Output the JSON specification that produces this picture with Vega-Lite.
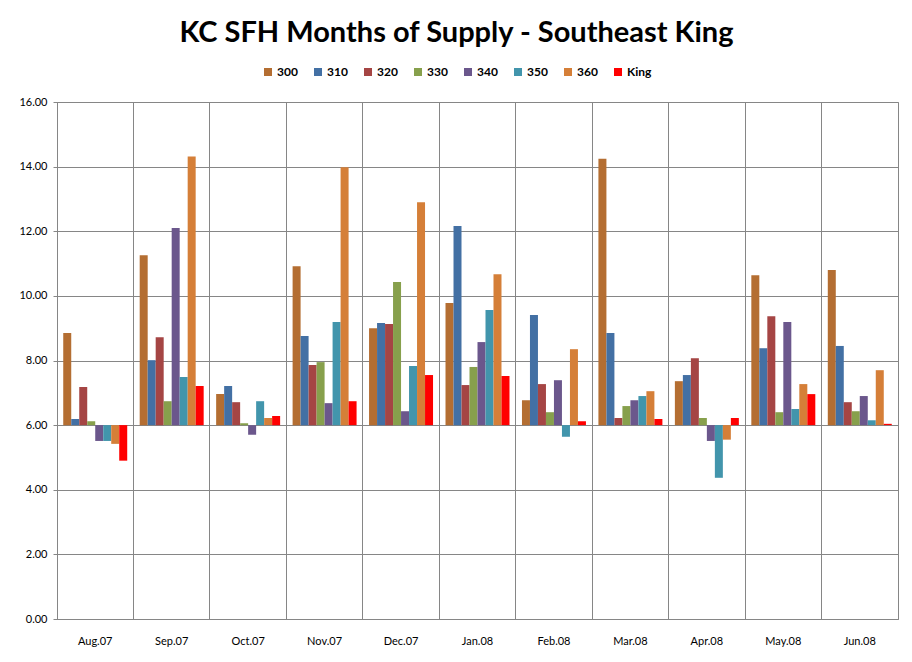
{
  "$schema": "https://vega.github.io/schema/vega-lite/v6.json",
  "width": 841,
  "height": 517,
  "autosize": {"type": "none"},
  "padding": {"left": 57, "top": 102, "right": 14, "bottom": 43},
  "background": "white",
  "title": {
    "text": "KC SFH Months of Supply - Southeast King",
    "font": "Lato",
    "fontSize": 29,
    "fontWeight": "bold",
    "color": "#000000",
    "anchor": "middle",
    "frame": "group",
    "offset": 18,
    "dx": -21
  },
  "config": {
    "view": {"stroke": "#868686", "strokeWidth": 1},
    "font": "Lato"
  },
  "data": {
    "values": [
      {"m": "Aug.07", "s": "300", "v": 8.85}, {"m": "Aug.07", "s": "310", "v": 6.19}, {"m": "Aug.07", "s": "320", "v": 7.18}, {"m": "Aug.07", "s": "330", "v": 6.12}, {"m": "Aug.07", "s": "340", "v": 5.51}, {"m": "Aug.07", "s": "350", "v": 5.51}, {"m": "Aug.07", "s": "360", "v": 5.42}, {"m": "Aug.07", "s": "King", "v": 4.9},
      {"m": "Sep.07", "s": "300", "v": 11.26}, {"m": "Sep.07", "s": "310", "v": 8.01}, {"m": "Sep.07", "s": "320", "v": 8.72}, {"m": "Sep.07", "s": "330", "v": 6.74}, {"m": "Sep.07", "s": "340", "v": 12.1}, {"m": "Sep.07", "s": "350", "v": 7.49}, {"m": "Sep.07", "s": "360", "v": 14.31}, {"m": "Sep.07", "s": "King", "v": 7.21},
      {"m": "Oct.07", "s": "300", "v": 6.96}, {"m": "Oct.07", "s": "310", "v": 7.21}, {"m": "Oct.07", "s": "320", "v": 6.71}, {"m": "Oct.07", "s": "330", "v": 6.06}, {"m": "Oct.07", "s": "340", "v": 5.7}, {"m": "Oct.07", "s": "350", "v": 6.74}, {"m": "Oct.07", "s": "360", "v": 6.22}, {"m": "Oct.07", "s": "King", "v": 6.28},
      {"m": "Nov.07", "s": "300", "v": 10.92}, {"m": "Nov.07", "s": "310", "v": 8.76}, {"m": "Nov.07", "s": "320", "v": 7.86}, {"m": "Nov.07", "s": "330", "v": 7.95}, {"m": "Nov.07", "s": "340", "v": 6.68}, {"m": "Nov.07", "s": "350", "v": 9.19}, {"m": "Nov.07", "s": "360", "v": 13.98}, {"m": "Nov.07", "s": "King", "v": 6.74},
      {"m": "Dec.07", "s": "300", "v": 9.0}, {"m": "Dec.07", "s": "310", "v": 9.16}, {"m": "Dec.07", "s": "320", "v": 9.13}, {"m": "Dec.07", "s": "330", "v": 10.43}, {"m": "Dec.07", "s": "340", "v": 6.43}, {"m": "Dec.07", "s": "350", "v": 7.83}, {"m": "Dec.07", "s": "360", "v": 12.9}, {"m": "Dec.07", "s": "King", "v": 7.55},
      {"m": "Jan.08", "s": "300", "v": 9.78}, {"m": "Jan.08", "s": "310", "v": 12.16}, {"m": "Jan.08", "s": "320", "v": 7.24}, {"m": "Jan.08", "s": "330", "v": 7.8}, {"m": "Jan.08", "s": "340", "v": 8.57}, {"m": "Jan.08", "s": "350", "v": 9.56}, {"m": "Jan.08", "s": "360", "v": 10.67}, {"m": "Jan.08", "s": "King", "v": 7.52},
      {"m": "Feb.08", "s": "300", "v": 6.77}, {"m": "Feb.08", "s": "310", "v": 9.41}, {"m": "Feb.08", "s": "320", "v": 7.27}, {"m": "Feb.08", "s": "330", "v": 6.4}, {"m": "Feb.08", "s": "340", "v": 7.39}, {"m": "Feb.08", "s": "350", "v": 5.64}, {"m": "Feb.08", "s": "360", "v": 8.35}, {"m": "Feb.08", "s": "King", "v": 6.12},
      {"m": "Mar.08", "s": "300", "v": 14.24}, {"m": "Mar.08", "s": "310", "v": 8.85}, {"m": "Mar.08", "s": "320", "v": 6.22}, {"m": "Mar.08", "s": "330", "v": 6.59}, {"m": "Mar.08", "s": "340", "v": 6.77}, {"m": "Mar.08", "s": "350", "v": 6.9}, {"m": "Mar.08", "s": "360", "v": 7.05}, {"m": "Mar.08", "s": "King", "v": 6.19},
      {"m": "Apr.08", "s": "300", "v": 7.36}, {"m": "Apr.08", "s": "310", "v": 7.55}, {"m": "Apr.08", "s": "320", "v": 8.07}, {"m": "Apr.08", "s": "330", "v": 6.22}, {"m": "Apr.08", "s": "340", "v": 5.51}, {"m": "Apr.08", "s": "350", "v": 4.37}, {"m": "Apr.08", "s": "360", "v": 5.55}, {"m": "Apr.08", "s": "King", "v": 6.22},
      {"m": "May.08", "s": "300", "v": 10.64}, {"m": "May.08", "s": "310", "v": 8.38}, {"m": "May.08", "s": "320", "v": 9.37}, {"m": "May.08", "s": "330", "v": 6.4}, {"m": "May.08", "s": "340", "v": 9.19}, {"m": "May.08", "s": "350", "v": 6.5}, {"m": "May.08", "s": "360", "v": 7.27}, {"m": "May.08", "s": "King", "v": 6.96},
      {"m": "Jun.08", "s": "300", "v": 10.8}, {"m": "Jun.08", "s": "310", "v": 8.45}, {"m": "Jun.08", "s": "320", "v": 6.71}, {"m": "Jun.08", "s": "330", "v": 6.43}, {"m": "Jun.08", "s": "340", "v": 6.9}, {"m": "Jun.08", "s": "350", "v": 6.15}, {"m": "Jun.08", "s": "360", "v": 7.7}, {"m": "Jun.08", "s": "King", "v": 6.04}
    ]
  },
  "mark": {"type": "bar"},
  "encoding": {
    "x": {
      "field": "m",
      "type": "nominal",
      "sort": null,
      "scale": {"paddingInner": 0, "paddingOuter": 0},
      "axis": {
        "title": null,
        "labelAngle": 0,
        "labelFont": "Lato",
        "labelFontSize": 11,
        "labelColor": "#000000",
        "labelPadding": 16,
        "ticks": false,
        "grid": true,
        "bandPosition": 0,
        "gridColor": "#868686",
        "gridWidth": 1,
        "domainColor": "#868686"
      }
    },
    "xOffset": {
      "field": "s",
      "type": "nominal",
      "scale": {"paddingInner": 0, "paddingOuter": 0.78}
    },
    "y": {
      "field": "v",
      "type": "quantitative",
      "scale": {"domain": [0, 16], "nice": false, "zero": false},
      "axis": {
        "title": null,
        "values": [0, 2, 4, 6, 8, 10, 12, 14, 16],
        "format": ".2f",
        "labelFont": "Lato",
        "labelFontSize": 11,
        "labelColor": "#000000",
        "labelPadding": 6,
        "tickSize": 4,
        "tickColor": "#868686",
        "domainColor": "#868686",
        "gridColor": "#868686",
        "gridWidth": 1
      }
    },
    "y2": {"datum": 6},
    "color": {
      "field": "s",
      "type": "nominal",
      "scale": {
        "domain": ["300", "310", "320", "330", "340", "350", "360", "King"],
        "range": ["#B46E32", "#4370A4", "#A54544", "#87A04C", "#6B578C", "#4295AC", "#D57F38", "#FF0000"]
      },
      "legend": {
        "title": null,
        "orient": "none",
        "direction": "horizontal",
        "legendX": 205,
        "legendY": -36,
        "symbolType": "square",
        "symbolSize": 64,
        "symbolStrokeWidth": 0,
        "labelFont": "Lato",
        "labelFontSize": 12,
        "labelFontWeight": "bold",
        "labelColor": "#000000",
        "labelOffset": 3,
        "columnPadding": 14
      }
    }
  }
}
